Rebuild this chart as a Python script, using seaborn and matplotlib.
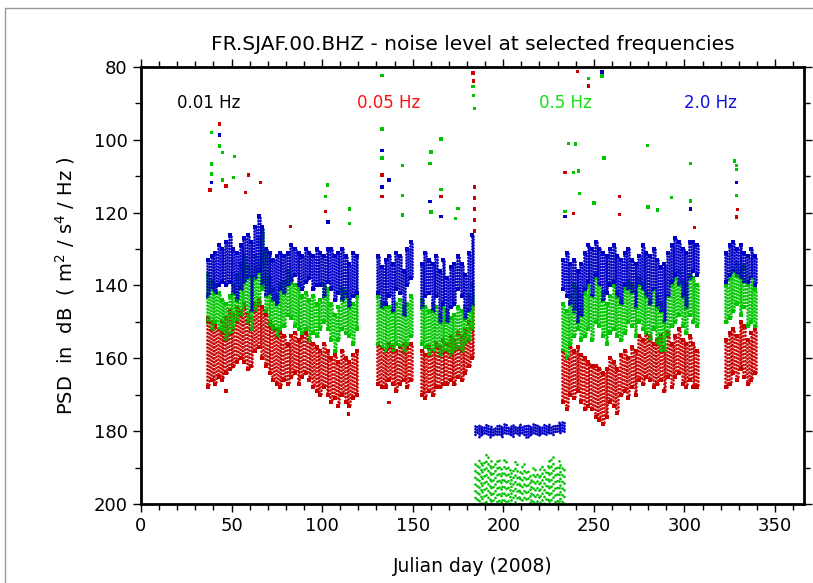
import matplotlib
matplotlib.use("Agg")
import matplotlib.pyplot as plt
import matplotlib.patches as mpatches
from matplotlib.ticker import MultipleLocator
import numpy as np
import pandas as pd
import seaborn as sns

# Julian days with data (one entry per 2 days)
band_days = [
    37, 39, 41, 43, 45, 47, 49, 51, 53, 55, 57, 59, 61, 63, 65, 67, 69, 71, 73, 75, 77,
    79, 81, 83, 85, 87, 89, 91, 93, 95, 97, 99, 101, 103, 105, 107, 109, 111, 113, 115, 117, 119,
    131, 133, 135, 137, 139, 141, 143, 145, 147, 149,
    155, 157, 159, 161, 163, 165, 167, 169, 171, 173, 175, 177, 179, 181, 183,
    233, 235, 237, 239, 241, 243, 245, 247, 249, 251, 253, 255, 257, 259, 261, 263, 265, 267, 269,
    271, 273, 275, 277, 279, 281, 283, 285, 287, 289, 291, 293, 295, 297, 299, 301, 303, 305, 307,
    323, 325, 327, 329, 331, 333, 335, 337, 339,
]
# quiet period (instrument problem): only 0.5 Hz and 2.0 Hz visible
quiet_days = [185, 187, 189, 191, 193, 195, 197, 199, 201, 203, 205, 207, 209, 211, 213,
              215, 217, 219, 221, 223, 225, 227, 229, 231, 233]

# 2.0 Hz (blue) band top / bottom in dB
blue_lo = [
    133, 132, 131, 129, 130, 128, 126, 130, 131, 129, 127, 126, 128, 124, 121, 124, 130, 131, 133, 132, 131,
    132, 131, 129, 130, 131, 132, 130, 131, 132, 130, 131, 132, 130, 130, 132, 131, 130, 132, 134, 131, 132,
    132, 135, 133, 132, 134, 131, 132, 136, 130, 128,
    134, 131, 133, 134, 132, 136, 133, 138, 135, 134, 132, 134, 137, 131, 126,
    133, 131, 134, 133, 136, 134, 131, 129, 130, 128, 130, 131, 132, 130, 129, 132, 133, 131, 130,
    133, 134, 132, 129, 131, 132, 130, 133, 135, 134, 131, 129, 127, 128, 130, 131, 128, 128, 129,
    131, 129, 128, 130, 129, 131, 132, 130, 132,
]
blue_hi = [
    143, 141, 142, 140, 139, 140, 139, 142, 144, 141, 139, 138, 147, 138, 136, 140, 143, 142, 144, 145, 141,
    142, 140, 139, 137, 140, 141, 139, 138, 141, 140, 140, 143, 139, 141, 144, 142, 144, 143, 146, 143, 142,
    142, 146, 145, 143, 147, 141, 142, 148, 140, 138,
    146, 143, 142, 147, 143, 150, 145, 150, 146, 145, 141, 143, 149, 147, 145,
    141, 143, 145, 147, 150, 148, 141, 139, 143, 137, 140, 144, 142, 140, 139, 143, 145, 140, 141,
    142, 146, 140, 141, 143, 145, 141, 146, 147, 150, 143, 139, 137, 140, 143, 146, 138, 136, 137,
    139, 137, 136, 137, 138, 139, 139, 138, 140,
]
blue_quiet_lo = [178.5, 178, 178.5, 178, 178.5, 179, 178, 178.5, 178, 178.5, 178, 178.5, 178,
                 178.5, 178, 178.5, 178, 178, 178.5, 178, 178, 178.5, 178, 177.5, 177.5]
blue_quiet_hi = [181, 181.5, 181, 181, 181.5, 181, 181, 181.5, 181, 181, 181.5, 181, 181,
                 181, 181.5, 181, 181, 181, 181, 181, 180.5, 181, 180.5, 180.5, 180.5]

# 0.5 Hz (green)
green_lo = [
    137, 139, 140, 142, 144, 145, 143, 140, 137, 134, 132, 135, 138, 132, 127, 125, 131, 138, 141, 143, 140,
    139, 136, 138, 140, 141, 143, 142, 144, 143, 145, 144, 140, 141, 145, 148, 146, 141, 142, 144, 145, 143,
    143, 145, 146, 146, 147, 145, 144, 146, 145, 143,
    144, 146, 147, 145, 146, 148, 146, 147, 149, 148, 146, 147, 146, 143, 140,
    145, 147, 143, 140, 141, 143, 142, 140, 143, 138, 140, 142, 145, 143, 140, 142, 144, 141, 139,
    140, 142, 138, 140, 142, 144, 141, 143, 145, 147, 143, 140, 138, 136, 139, 140, 137, 138, 140,
    140, 138, 136, 134, 136, 135, 140, 138, 141,
]
green_hi = [
    150, 152, 150, 152, 153, 155, 153, 152, 150, 148, 146, 150, 152, 147, 145, 141, 147, 151, 152, 154, 152,
    151, 148, 149, 151, 152, 153, 152, 155, 153, 154, 152, 150, 152, 155, 158, 155, 152, 153, 154, 156, 152,
    156, 157, 158, 157, 158, 156, 157, 158, 156, 154,
    156, 157, 159, 158, 157, 159, 158, 158, 159, 158, 157, 158, 156, 155, 152,
    158, 160, 156, 154, 152, 155, 154, 152, 155, 150, 151, 154, 156, 153, 152, 154, 155, 153, 150,
    151, 154, 150, 152, 153, 155, 152, 156, 158, 158, 154, 151, 150, 148, 151, 153, 148, 150, 151,
    150, 149, 147, 145, 148, 146, 151, 150, 151,
]
green_quiet_lo = [189, 187, 188, 186, 188, 189, 187, 190, 188, 189, 190, 188, 191, 189, 190,
                  192, 190, 191, 189, 190, 188, 187, 189, 188, 190]
green_quiet_hi = [200] * 25

# 0.05 Hz (red)
red_lo = [
    149, 150, 151, 152, 150, 149, 147, 148, 146, 147, 145, 148, 149, 145, 144, 146, 148, 150, 151, 152, 153,
    154, 156, 154, 153, 155, 154, 153, 155, 156, 157, 158, 156, 158, 160, 159, 161, 158, 160, 161, 159, 158,
    156, 157, 158, 156, 157, 158, 157, 156, 157, 156,
    158, 159, 157, 158, 156, 157, 155, 156, 154, 155, 153, 154, 152, 150, 145,
    158, 160, 157, 158, 157, 159, 160, 161, 162, 162, 163, 164, 163, 160, 161, 163, 159, 158, 160,
    157, 158, 154, 155, 153, 154, 156, 155, 154, 157, 153, 156, 154, 152, 155, 156, 154, 156, 158,
    155, 153, 152, 154, 150, 151, 155, 153, 152,
]
red_hi = [
    168, 166, 167, 165, 166, 164, 163, 162, 161, 160, 161, 163, 162, 158, 157, 160, 162, 164, 166, 167, 168,
    166, 167, 165, 164, 167, 165, 164, 166, 168, 169, 170, 168, 170, 172, 171, 173, 170, 172, 173, 171, 170,
    167, 168, 168, 166, 167, 169, 167, 166, 168, 166,
    170, 171, 169, 170, 168, 168, 167, 167, 166, 167, 165, 166, 164, 162, 160,
    172, 174, 170, 171, 169, 172, 174, 173, 174, 176, 177, 178, 176, 172, 173, 175, 170, 169, 171,
    168, 170, 166, 167, 165, 166, 168, 167, 166, 169, 165, 168, 165, 164, 167, 168, 166, 168, 168,
    168, 167, 164, 166, 163, 165, 167, 166, 164,
]

# isolated points outside the bands
green_out_day = [39, 43.5, 45, 51.7, 39, 39, 45, 51, 103, 102, 115, 115, 133, 133, 133, 144.5, 144.5,
                 144.5, 165.6, 160, 159.6, 160, 165.6, 175, 173.6, 183.4, 183.6, 184, 236, 234, 247,
                 254.5, 239.8, 255.5, 279.6, 303.4, 327.5, 328.8, 328.8, 328.8, 293, 303.4, 279.8,
                 285, 241.6, 238.9, 242, 250]
green_out_db = [98, 101.7, 103.4, 104.5, 106.6, 109.4, 111, 110.4, 112.4, 115.6, 119, 123, 82.3, 97,
                105, 107, 115.3, 120.6, 99.8, 103.3, 106.5, 119.8, 113.7, 118.9, 121.6, 85.3, 87.8,
                91.4, 101, 119.7, 83.2, 82.5, 101.2, 105, 101.5, 106.5, 105.8, 107, 108.2, 115.3,
                115.8, 116.8, 118.5, 119.3, 108.6, 109, 114.8, 117.4]
red_out_day = [43.5, 59.4, 66, 47, 38, 57.6, 102, 82.5, 133, 133, 165.6, 183.4, 183.7, 184, 184, 184,
               184, 184, 234, 241, 247, 264, 264, 329.4, 328.8, 305.5, 238.9, 137, 114.5, 47]
red_out_db = [95.7, 109.7, 111.8, 112.7, 113.8, 114.5, 119.7, 123.8, 109.7, 115.5, 115.5, 81.7, 83.9,
              113, 116, 119, 122, 125, 109, 81.2, 85.2, 115.6, 120.5, 119.2, 121.2, 124, 120.3,
              172.2, 175.3, 169]
blue_out_day = [43.5, 39, 103.3, 133, 137, 133, 159.6, 165.6, 234, 254.5, 328.8, 303.4]
blue_out_db = [98.7, 111.7, 122.6, 103, 111, 113, 117, 121, 121, 81.4, 111.7, 119]

freq_labels = ['0.01 Hz', '0.05 Hz', '0.5 Hz', '2.0 Hz']
label_days = [20, 119, 220, 300]

c_red, c_green, c_blue = '#c80000', '#00c400', '#0000c4'
text_colors = ['black', '#ff1010', '#10e010', '#1010e0']

sns.set_style('ticks')
plt.rcParams['font.family'] = ['DejaVu Sans']


def dots(n, gap, start=0):
    # round dots along each column, start shifted so columns don't line up
    phases = [0.0, 0.5, 0.25, 0.75, 0.125, 0.625, 0.375, 0.875]
    return [(phases[(i + start) % len(phases)] * gap, (0.01, gap)) for i in range(n)]


def band(days, lo, hi, color, gap):
    # each 2-day reading is drawn as two columns of dots, one day apart
    for shift, start in [(-0.5, 0), (0.5, 3)]:
        lc = ax.vlines([d + shift for d in days], lo, hi, colors=color, linewidth=2.0,
                       linestyles=dots(len(days), gap, start))
        lc.set_capstyle('round')


fig = plt.figure(figsize=(8.13, 5.83), dpi=100)
ax = fig.add_axes([0.1734, 0.1355, 0.8155, 0.7496])

band(band_days, red_lo, red_hi, c_red, 1.3)
band(band_days, green_lo, green_hi, c_green, 1.2)
band(quiet_days, green_quiet_lo, green_quiet_hi, c_green, 2.4)
band(band_days, blue_lo, blue_hi, c_blue, 1.05)
band(quiet_days, blue_quiet_lo, blue_quiet_hi, c_blue, 1.0)

# band edges as single samples, to get the ragged look
for lo, hi, c in [(red_lo, red_hi, c_red), (green_lo, green_hi, c_green), (blue_lo, blue_hi, c_blue)]:
    edges = pd.DataFrame({'day': band_days * 2, 'db': lo + hi})
    sns.scatterplot(data=edges, x='day', y='db', color=c, s=5, marker='s', linewidth=0, ax=ax)

out = pd.concat([
    pd.DataFrame({'day': red_out_day, 'db': red_out_db, 'f': '0.05 Hz'}),
    pd.DataFrame({'day': green_out_day, 'db': green_out_db, 'f': '0.5 Hz'}),
    pd.DataFrame({'day': blue_out_day, 'db': blue_out_db, 'f': '2.0 Hz'}),
])
sns.scatterplot(data=out, x='day', y='db', hue='f', palette=[c_red, c_green, c_blue],
                s=6, marker='s', linewidth=0, legend=False, ax=ax)

for lab, d, tc in zip(freq_labels, label_days, text_colors):
    ax.text(d, 90, lab, color=tc, fontsize=12, va='center', ha='left')

ax.set_xlim(0, 366)
ax.set_ylim(200, 80)
ax.xaxis.set_major_locator(MultipleLocator(50))
ax.xaxis.set_minor_locator(MultipleLocator(10))
ax.yaxis.set_major_locator(MultipleLocator(20))
ax.yaxis.set_minor_locator(MultipleLocator(10))
ax.tick_params(which='both', direction='out', top=True, right=True, color='black',
               labelcolor='black', labelsize=13, width=1)
ax.tick_params(which='major', length=6)
ax.tick_params(which='minor', length=4)
for s in ax.spines.values():
    s.set_linewidth(2)
    s.set_color('black')

ax.set_title('FR.SJAF.00.BHZ - noise level at selected frequencies', fontsize=14.5, pad=12,
             color='black')
ax.set_xlabel('Julian day (2008)', fontsize=13.5, labelpad=16, color='black')
ax.set_ylabel('PSD  in  dB  ( m$^2$ / s$^4$ / Hz )', fontsize=14, labelpad=12, color='black')

fig.patches.append(mpatches.Rectangle((0.006, -0.01), 1.0, 0.996, transform=fig.transFigure,
                                      fill=False, edgecolor='#9a9a9a', linewidth=1))

fig.savefig('out.png', dpi=100)
